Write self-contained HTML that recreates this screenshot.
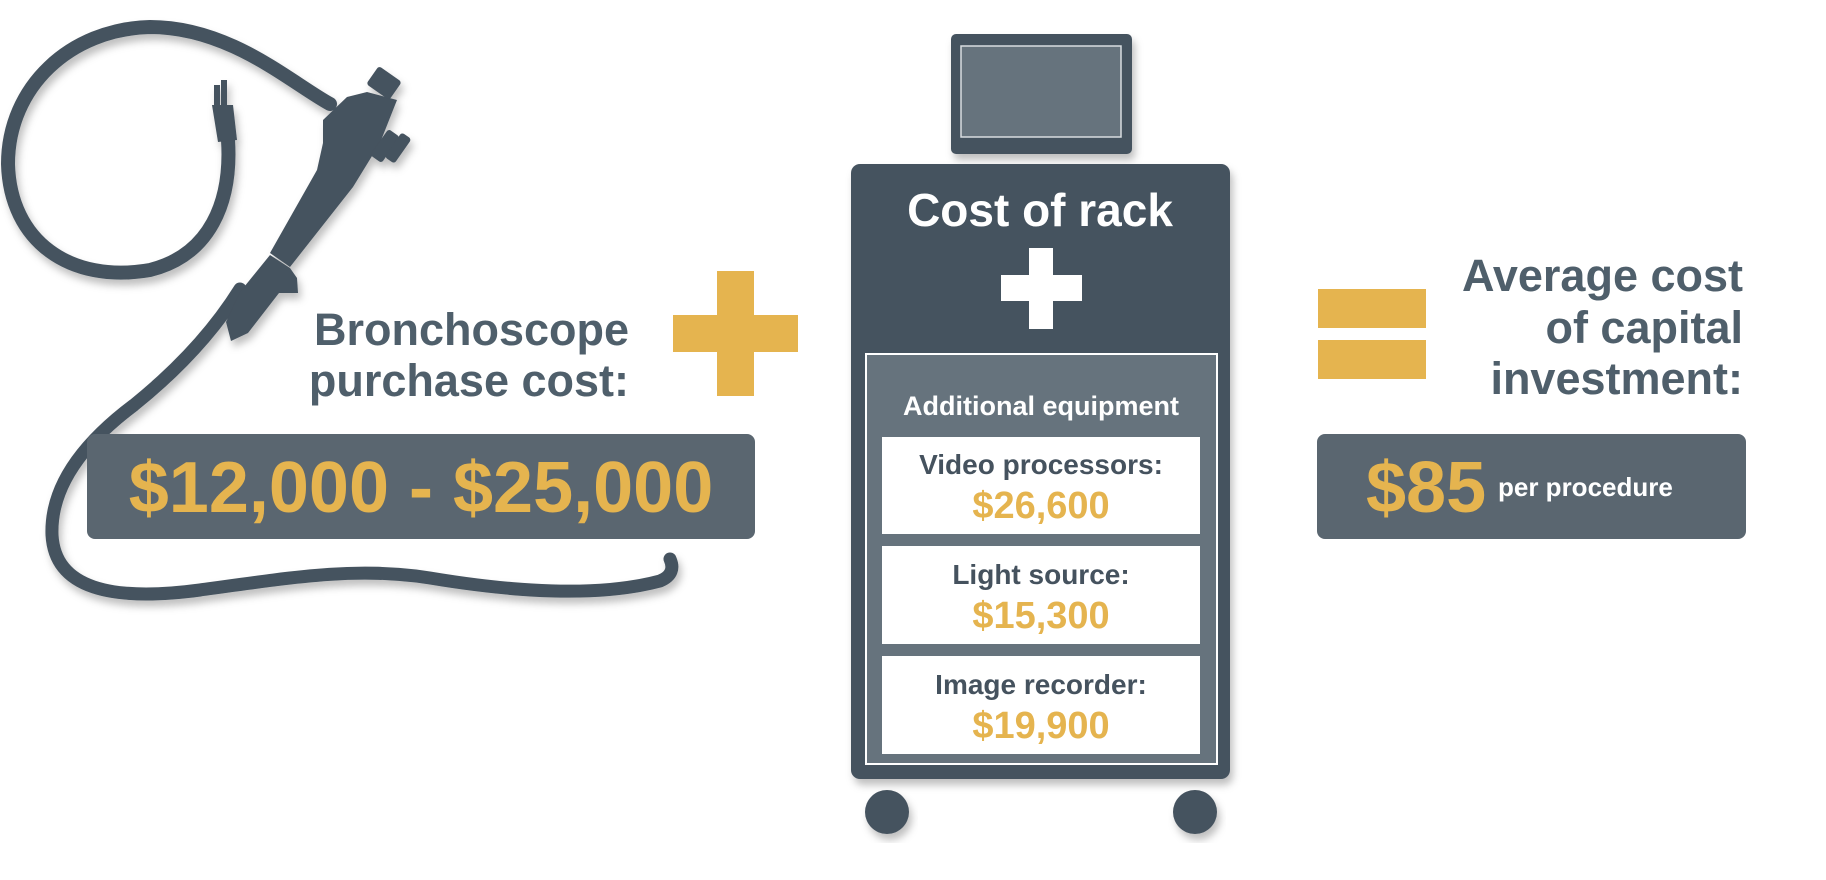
<!DOCTYPE html>
<html><head><meta charset="utf-8"><style>
html,body{margin:0;padding:0;background:#fff;}
svg{display:block;}
text{font-family:"Liberation Sans",sans-serif;font-weight:bold;}
</style></head><body>
<svg width="1826" height="880" viewBox="0 0 1826 880" xmlns="http://www.w3.org/2000/svg">
<defs>
<filter id="sh" x="-10%" y="-10%" width="130%" height="130%"><feDropShadow dx="3" dy="6" stdDeviation="4" flood-color="#000" flood-opacity="0.25"/></filter>
</defs>
<!-- bronchoscope -->
<g filter="url(#sh)" fill="#45525e" stroke="none">
<path d="M228 140 C232 202 210 255 150 270 C70 284 10 241 8 164 C8 87 70 29 150 27 C230 27 290 82 330 104" fill="none" stroke="#45525e" stroke-width="14" stroke-linecap="round"/>
<path d="M240 289 C210 337 170 376 134 405 C90 438 50 482 52 535 C55 588 110 602 200 590 C300 576 360 567 430 578 C520 593 600 597 660 581 C672 576 674 568 670 559" fill="none" stroke="#45525e" stroke-width="13" stroke-linecap="round"/>
<rect x="214" y="85" width="6" height="25"/><rect x="221" y="80" width="6" height="25"/>
<path d="M212 105 L233 105 L237 140 L218 142 Z"/>
<path d="M323 120 L347 97 L367 92 L397 100 L380 143 L353 187 L290 267 L270 253 L317 170 L323 143 Z"/>
<path d="M270 255 L290 268 L297 278 L298 293 L279 293 L248 333 L231 341 L226 322 L240 292 Z"/>
<rect x="370" y="72" width="28" height="22" rx="3" transform="rotate(35 384 83)"/>
<rect x="378" y="130" width="14" height="32" rx="3" transform="rotate(35 385 146)"/>
<rect x="392" y="133" width="12" height="30" rx="3" transform="rotate(35 398 148)"/>
</g>
<!-- left text -->
<text x="629" y="345" font-size="45" fill="#4f5f6b" text-anchor="end">Bronchoscope</text>
<text x="629" y="396" font-size="45" fill="#4f5f6b" text-anchor="end">purchase cost:</text>
<rect x="87" y="434" width="668" height="105" rx="8" fill="#5a6670"/>
<text x="421" y="512" font-size="72" fill="#e5b44f" text-anchor="middle">$12,000 - $25,000</text>
<!-- gold plus -->
<rect x="717" y="271" width="37" height="125" fill="#e5b44f"/>
<rect x="673" y="315" width="125" height="37" fill="#e5b44f"/>
<!-- monitor -->
<rect x="951" y="34" width="181" height="120" rx="5" fill="#45525e" filter="url(#sh)"/>
<rect x="961" y="46" width="160" height="91" fill="#66737d" stroke="#d8dde0" stroke-width="1.5"/>
<!-- rack -->
<circle cx="887" cy="812" r="22" fill="#45525e" filter="url(#sh)"/>
<circle cx="1195" cy="812" r="22" fill="#45525e" filter="url(#sh)"/>
<rect x="851" y="164" width="379" height="615" rx="9" fill="#45525e" filter="url(#sh)"/>
<text x="1040" y="226" font-size="46" fill="#fff" text-anchor="middle" font-weight="normal">Cost of rack</text>
<rect x="1029" y="248" width="24" height="81" fill="#fff"/>
<rect x="1001" y="275" width="81" height="26" fill="#fff"/>
<rect x="866" y="354" width="351" height="410" fill="#66737d" stroke="#fff" stroke-width="2"/>
<text x="1041" y="415" font-size="27" fill="#fff" text-anchor="middle">Additional equipment</text>
<rect x="882" y="437" width="318" height="97" fill="#fff"/>
<rect x="882" y="546" width="318" height="98" fill="#fff"/>
<rect x="882" y="656" width="318" height="98" fill="#fff"/>
<text x="1041" y="474" font-size="28" fill="#45525e" text-anchor="middle">Video processors:</text>
<text x="1041" y="518" font-size="38" fill="#e5b44f" text-anchor="middle">$26,600</text>
<text x="1041" y="584" font-size="28" fill="#45525e" text-anchor="middle">Light source:</text>
<text x="1041" y="628" font-size="38" fill="#e5b44f" text-anchor="middle">$15,300</text>
<text x="1041" y="694" font-size="28" fill="#45525e" text-anchor="middle">Image recorder:</text>
<text x="1041" y="738" font-size="38" fill="#e5b44f" text-anchor="middle">$19,900</text>
<!-- equals -->
<rect x="1318" y="289" width="108" height="39" fill="#e5b44f"/>
<rect x="1318" y="340" width="108" height="39" fill="#e5b44f"/>
<text x="1743" y="291" font-size="45" fill="#4f5f6b" text-anchor="end">Average cost</text>
<text x="1743" y="343" font-size="45" fill="#4f5f6b" text-anchor="end">of capital</text>
<text x="1743" y="394" font-size="45" fill="#4f5f6b" text-anchor="end">investment:</text>
<rect x="1317" y="434" width="429" height="105" rx="8" fill="#5a6670"/>
<text x="1366" y="512" font-size="72" fill="#e5b44f">$85</text>
<text x="1498" y="496" font-size="26" fill="#fff" font-weight="normal">per procedure</text>
</svg>
</body></html>
